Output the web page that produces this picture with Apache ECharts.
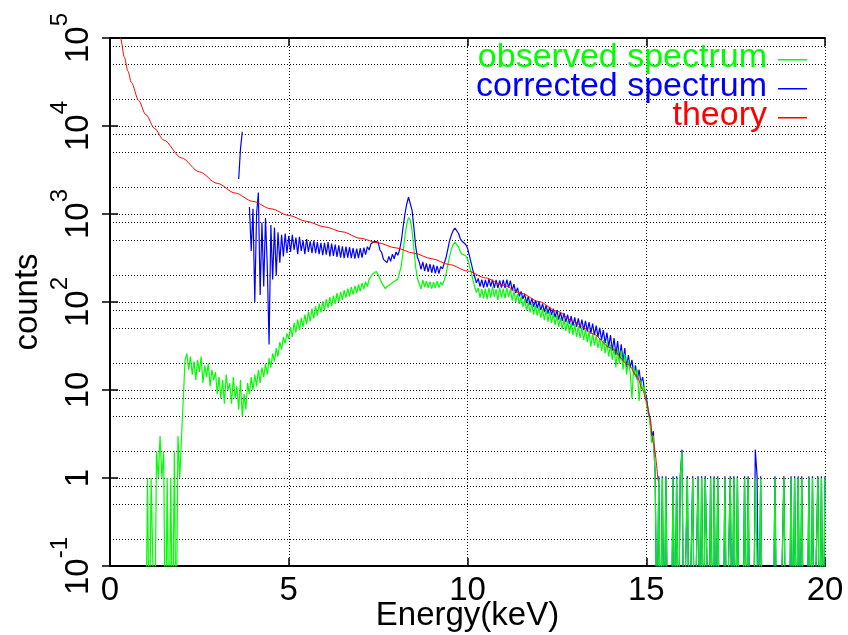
<!DOCTYPE html>
<html>
<head>
<meta charset="utf-8">
<title>spectrum</title>
<script src="https://cdn.jsdelivr.net/npm/echarts@6.0.0/dist/echarts.min.js"></script>
<style>
html, body { margin: 0; padding: 0; background: #fff; }
#chart { width: 848px; height: 635px; }
</style>
</head>
<body>
<div id="chart"></div>
<script>
const FONT = '"Liberation Sans", Arial, Helvetica, sans-serif';

// channel width (keV) and first channel energy of each spectrum
const step = 0.05;
const observedStart = 1.0;
const correctedStart = 3.6;

// observed spectrum, counts per channel from 1.00 keV
const observedCounts = [
  0, 1, 0, 1, 1, 0, 2, 1, 3, 1,            // 1.00
  2, 0, 1, 0, 1, 0, 2, 0, 3, 1,            // 1.50
  1, 8, 22, 26, 17, 24, 15, 21, 13, 22,    // 2.00
  16, 24, 12, 19, 14, 20, 11, 17, 13, 16,  // 2.50
  9, 14, 8, 13, 7, 15, 10, 12, 7, 14,      // 3.00
  8, 11, 6, 13, 5, 9, 6, 12, 9, 14,        // 3.50
  10, 15, 11, 17, 12, 18, 14, 20, 15, 23,  // 4.00
  18, 26, 21, 30, 24, 35, 29, 40, 34, 44,  // 4.50
  38, 52, 40, 58, 45, 63, 48, 66, 52, 72,  // 5.00
  56, 78, 60, 84, 65, 90, 70, 96, 76, 102, // 5.50
  80, 108, 86, 114, 90, 118, 95, 126, 100, 130,     // 6.00
  106, 136, 112, 142, 116, 148, 122, 152, 126, 158, // 6.50
  132, 164, 140, 170, 150, 182, 175, 210, 200, 222, // 7.00
  205, 196, 165, 162, 142, 150, 148, 160, 155, 172, // 7.50
  165, 182, 180, 260, 380, 560, 760, 910, 860, 640, // 8.00
  400, 250, 185, 160, 140, 178, 148, 172, 145, 170, // 8.50
  142, 168, 145, 172, 146, 168, 155, 178, 210, 265, // 9.00
  330, 400, 450, 480, 470, 420, 370, 350, 355, 335, // 9.50
  310, 260, 220, 180, 150, 128, 145, 112, 140, 110, // 10.00
  142, 108, 145, 112, 150, 114, 140, 105, 145, 112, // 10.50
  142, 110, 146, 114, 140, 104, 132, 100, 124, 95,  // 11.00
  116, 88, 108, 80, 99, 76, 95, 72, 91, 70,  // 11.50
  88, 66, 83, 62, 81, 60, 77, 58, 73, 55,    // 12.00
  71, 52, 66, 49, 63, 47, 61, 44, 58, 42,    // 12.50
  56, 40, 53, 39, 51, 37, 49, 35, 46, 31,    // 13.00
  44, 32, 41, 30, 39, 28, 37, 26, 35, 24,    // 13.50
  33, 22, 31, 18, 29, 20, 28, 17, 26, 15,    // 14.00
  22, 16, 8, 19, 14, 17, 7.5, 13, 10, 11,    // 14.50
  7, 5.5, 4.5, 2.5, 3, 1, 0, 1, 0, 1,        // 15.00
  0, 1, 0, 0, 0, 1, 0, 1, 0, 1,              // 15.50
  2, 0, 0, 1, 0, 0, 1, 0, 0, 1,              // 16.00
  0, 1, 0, 1, 1, 0, 1, 0, 1, 0,              // 16.50
  1, 0, 0, 0, 1, 0, 0, 1, 0, 1,              // 17.00
  0, 1, 0, 0, 0, 1, 0, 1, 0, 0,              // 17.50
  0, 1, 1, 0, 1, 0, 0, 0, 0, 0,              // 18.00
  0, 0, 1, 0, 0, 0, 0, 1, 0, 0,              // 18.50
  0, 1, 0, 1, 0, 1, 0, 1, 0, 0,              // 19.00
  0, 1, 0, 1, 0, 0, 1, 0, 1, 0,              // 19.50
  1                                          // 20.00
];

// corrected spectrum from 3.60 keV (null = no data)
const correctedCounts = [
  2500, 5500, 8600, null, null, null, 1200, 380,     // 3.60
  1150, 100, 1000, 1750, 120, 800, 150, 900, 250, 33, // 4.00
  750, 180, 700, 200, 620, 280, 580, 330, 600, 360,  // 4.50
  560, 370, 580, 390, 540, 350, 550, 380, 500, 350,  // 5.00
  520, 370, 490, 360, 500, 360, 480, 350, 470, 340,  // 5.50
  470, 345, 480, 330, 460, 335, 450, 325, 440, 320,  // 6.00
  430, 315, 425, 320, 420, 315, 410, 310, 405, 315,  // 6.50
  410, 320, 415, 345, 425, 390, 460, 440, 490, 470,  // 7.00
  480, 390, 365, 305, 315, 280, 330, 290, 350, 310,  // 7.50
  370, 340, 390, 500, 720, 1000, 1300, 1550, 1480, 1100, // 8.00
  700, 430, 320, 285, 235, 285, 225, 275, 220, 270,  // 8.50
  215, 265, 212, 258, 210, 252, 238, 275, 320, 400,  // 9.00
  500, 580, 650, 690, 670, 600, 520, 490, 480, 450,  // 9.50
  410, 340, 280, 230, 195, 165, 185, 150, 180, 146,  // 10.00
  178, 148, 182, 150, 180, 145, 178, 144, 176, 146,  // 10.50
  178, 144, 180, 146, 175, 135, 160, 126, 145, 116,  // 11.00
  132, 108, 124, 97, 116, 92, 110, 88, 104, 85,      // 11.50
  100, 81, 96, 77, 92, 74, 88, 71, 84, 67,           // 12.00
  81, 63, 77, 61, 75, 59, 72, 56, 69, 54,            // 12.50
  67, 52, 65, 50, 63, 48, 61, 46, 59, 44,            // 13.00
  57, 42, 54, 40, 51, 37, 48, 34, 45, 31,            // 13.50
  42, 28, 39, 25, 36, 22, 33, 21, 30, 18,            // 14.00
  25, 18, 22, 15, 19, 13, 17, 12, 14, 10,            // 14.50
  8.5, 6, 4.8, 3, 3.4, 1.05, 0, 1.05, 0, 1.05,       // 15.00
  0, 1.05, 0, 0, 0, 1.05, 0, 1.05, 0, 1.05,          // 15.50
  2.1, 0, 0, 1.05, 0, 0, 1.05, 0, 0, 1.05,           // 16.00
  0, 1.05, 0, 1.05, 1.05, 0, 1.05, 0, 1.05, 0,       // 16.50
  1.05, 0, 0, 0, 1.05, 0, 0, 1.05, 0, 1.05,          // 17.00
  0, 1.05, 0, 0, 0, 1.05, 0, 1.05, 0, 0,             // 17.50
  0, 2.1, 1.05, 0, 1.05, 0, 0, 0, 0, 0,              // 18.00
  0, 0, 1.05, 0, 0, 0, 0, 1.05, 0, 0,                // 18.50
  0, 1.05, 0, 1.05, 0, 1.05, 0, 1.05, 0, 0,          // 19.00
  0, 1.05, 0, 1.05, 0, 0, 1.05, 0, 1.05, 0,          // 19.50
  1.05                                               // 20.00
];

// theory curve
const theoryEnergy = [0.2, 0.3, 0.4, 0.5, 0.6, 0.8, 1.0, 1.25, 1.5, 2.0, 2.5, 3.0, 3.5, 4.0, 4.5,
  5.0, 5.5, 6.0, 6.5, 7.0, 7.5, 8.0, 8.5, 9.0, 9.5, 10.0, 10.5, 11.0, 11.5, 12.0, 12.5,
  13.0, 13.25, 13.5, 14.0, 14.5, 14.75, 14.9, 15.0, 15.1, 15.2, 15.33];
const theoryCounts = [189000, 97300, 60700, 42100, 31200, 19500, 13500, 9350, 6930, 4340, 3010, 2230, 1730, 1390, 1146,
  964, 824, 715, 627, 530, 469, 412, 359, 310, 266, 225, 188, 155, 126, 101, 78.5,
  59.6, 51, 43.6, 30.2, 19.5, 14.1, 10, 7.6, 4.9, 2.5, 0.93];

// minor grid lines (2, 5, 8 per decade)
const minorGrid = [0.2, 0.5, 0.8, 2, 5, 8, 20, 50, 80, 200, 500, 800, 2000, 5000, 8000, 20000, 50000, 80000];

// zero counts are drawn to below the bottom edge, like gnuplot does
const ZERO_FLOOR = 0.01;

function toPoints(start, counts) {
  return counts.map(function (c, i) {
    const e = +(start + i * step).toFixed(2);
    if (c === null) return [e, null];
    return [e, c === 0 ? ZERO_FLOOR : c];
  });
}

const chart = echarts.init(document.getElementById('chart'));

const dotted = { color: '#000', width: 1, type: [1, 2] };

// key sample: short line sitting a little below the middle of the text
const keyIcon = 'path://M0,0L0,0ZM0,9L29,9L29,10.5L0,10.5ZM0,16L0,16Z';

const option = {
  animation: false,
  backgroundColor: '#fff',
  textStyle: { fontFamily: FONT },
  grid: { left: 110, right: 23, top: 38, bottom: 69, containLabel: false, outerBoundsMode: 'none' },
  legend: {
    orient: 'vertical',
    right: 36,
    top: 36,
    align: 'right',
    icon: keyIcon,
    itemWidth: 29,
    itemHeight: 16,
    itemGap: -5,
    selectedMode: false,
    textStyle: { fontSize: 34, fontFamily: FONT, padding: [0, 6, 0, 0] },
    data: [
      { name: 'observed spectrum', textStyle: { color: '#00ff00' } },
      { name: 'corrected spectrum', textStyle: { color: '#0000ff' } },
      { name: 'theory', textStyle: { color: '#ff0000' } }
    ]
  },
  xAxis: [{
    type: 'value',
    min: 0,
    max: 20,
    interval: 5,
    name: 'Energy(keV)',
    nameLocation: 'middle',
    nameGap: 33,
    nameMoveOverlap: false,
    nameTextStyle: { fontSize: 33, color: '#000', fontFamily: FONT },
    axisLine: { lineStyle: { color: '#000', width: 2 } },
    axisTick: { inside: true, length: 8, lineStyle: { color: '#000', width: 1.5 } },
    axisLabel: { fontSize: 33, color: '#000', margin: 8, fontFamily: FONT },
    splitLine: { show: true, lineStyle: dotted }
  }, {
    type: 'value',
    position: 'top',
    min: 0,
    max: 20,
    interval: 5,
    axisLine: { show: true, lineStyle: { color: '#000', width: 2 } },
    axisTick: { show: true, inside: true, length: 8, lineStyle: { color: '#000', width: 1.5 } },
    axisLabel: { show: false },
    splitLine: { show: false }
  }],
  yAxis: [{
    type: 'log',
    logBase: 10,
    min: 0.1,
    max: 100000,
    name: 'counts',
    nameLocation: 'middle',
    nameGap: 66,
    nameMoveOverlap: false,
    nameTextStyle: { fontSize: 33, color: '#000', fontFamily: FONT },
    axisLine: { lineStyle: { color: '#000', width: 2 } },
    axisTick: { inside: true, length: 8, lineStyle: { color: '#000', width: 1.5 } },
    axisLabel: {
      rotate: 90,
      margin: 15,
      showMinLabel: true,
      showMaxLabel: true,
      formatter: function (v) {
        const e = Math.round(Math.log10(v));
        if (e === 0) return '{b|1}';
        if (e === 1) return '{b|10}';
        return '{b|10}{s|' + e + '}';
      },
      rich: {
        b: { fontSize: 33, color: '#000', fontFamily: FONT, verticalAlign: 'bottom' },
        s: { fontSize: 24, color: '#000', fontFamily: FONT, verticalAlign: 'bottom', padding: [0, 0, 23, 0] }
      }
    },
    splitLine: { show: true, lineStyle: dotted }
  }, {
    type: 'log',
    logBase: 10,
    min: 0.1,
    max: 100000,
    position: 'right',
    axisLine: { show: true, lineStyle: { color: '#000', width: 2 } },
    axisTick: { show: true, inside: true, length: 8, lineStyle: { color: '#000', width: 1.5 } },
    axisLabel: { show: false },
    splitLine: { show: false }
  }],
  series: [{
    name: 'corrected spectrum',
    type: 'line',
    data: toPoints(correctedStart, correctedCounts),
    showSymbol: false,
    symbol: 'none',
    connectNulls: false,
    clip: true,
    color: '#0000ff',
    lineStyle: { color: '#0000ff', width: 1.2 }
  }, {
    name: 'observed spectrum',
    type: 'line',
    data: toPoints(observedStart, observedCounts),
    showSymbol: false,
    symbol: 'none',
    clip: true,
    color: '#00ff00',
    lineStyle: { color: '#00ff00', width: 1.2 }
  }, {
    name: 'theory',
    type: 'line',
    data: theoryEnergy.map(function (e, i) { return [e, theoryCounts[i]]; }),
    showSymbol: false,
    symbol: 'none',
    smooth: 0.3,
    smoothMonotone: 'x',
    clip: true,
    color: '#ff0000',
    lineStyle: { color: '#ff0000', width: 1 },
    markLine: {
      silent: true,
      symbol: ['none', 'none'],
      z: 1,
      label: { show: false },
      lineStyle: dotted,
      emphasis: { disabled: true },
      data: minorGrid.map(function (v) { return { yAxis: v }; })
    }
  }]
};

chart.setOption(option);
</script>
</body>
</html>
